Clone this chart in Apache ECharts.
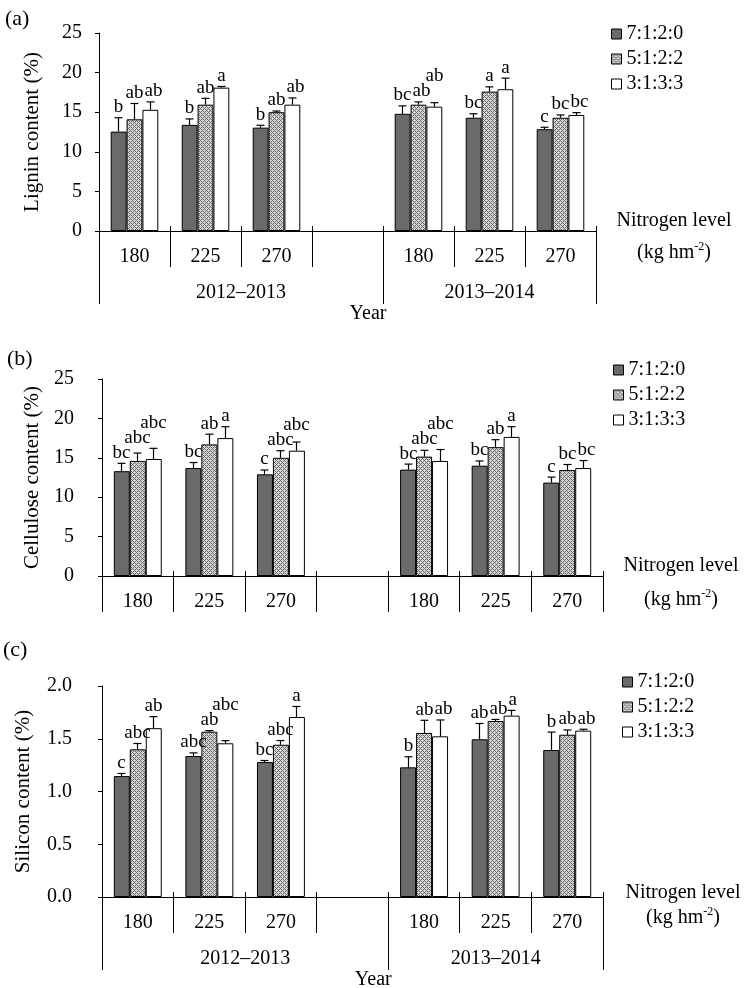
<!DOCTYPE html>
<html><head><meta charset="utf-8">
<script src="https://cdn.jsdelivr.net/npm/echarts@6/dist/echarts.min.js"></script>
<style>html,body{margin:0;padding:0;background:#fff}#c{width:750px;height:988px}</style>
</head><body><div id="c"></div>
<script>
// ---------- data ----------
const categories = ['180', '225', '270', '', '180', '225', '270'];
const seriesNames = ['7:1:2:0', '5:1:2:2', '3:1:3:3'];
const yearLabels = ['2012–2013', '2013–2014'];
const yearSpans = [4, 3];

const ligninMeans = [
  [12.55, 13.4, 13.05, null, 14.8, 14.3, 12.85],
  [14.1, 15.95, 15.0, null, 15.95, 17.6, 14.3],
  [15.3, 18.1, 15.95, null, 15.7, 17.9, 14.65]
];
const ligninErrs = [
  [1.75, 0.75, 0.3, null, 1.0, 0.5, 0.25],
  [2.0, 0.8, 0.15, null, 0.35, 0.6, 0.35],
  [1.0, 0.15, 0.85, null, 0.5, 1.4, 0.3]
];
const ligninLetters = [
  ['b', 'b', 'b', '', 'bc', 'bc', 'c'],
  ['ab', 'ab', 'ab', '', 'ab', 'a', 'bc'],
  ['ab', 'a', 'ab', '', 'ab', 'a', 'bc']
];

const celluloseMeans = [
  [13.3, 13.7, 12.9, null, 13.5, 14.0, 11.85],
  [14.6, 16.7, 15.0, null, 15.15, 16.35, 13.45],
  [14.85, 17.5, 15.9, null, 14.6, 17.65, 13.7]
];
const celluloseErrs = [
  [1.0, 0.7, 0.55, null, 0.7, 0.6, 0.7],
  [1.0, 1.3, 0.9, null, 0.8, 0.95, 0.7],
  [1.35, 1.45, 1.1, null, 1.45, 1.3, 0.95]
];
const celluloseLetters = [
  ['bc', 'bc', 'c', '', 'bc', 'bc', 'c'],
  ['abc', 'ab', 'abc', '', 'abc', 'ab', 'bc'],
  ['abc', 'a', 'abc', '', 'abc', 'a', 'bc']
];

const siliconMeans = [
  [1.146, 1.336, 1.279, null, 1.229, 1.495, 1.393],
  [1.40, 1.567, 1.443, null, 1.555, 1.668, 1.538],
  [1.60, 1.457, 1.706, null, 1.523, 1.719, 1.577]
];
const siliconErrs = [
  [0.025, 0.03, 0.015, null, 0.10, 0.15, 0.17],
  [0.055, 0.01, 0.04, null, 0.12, 0.015, 0.045],
  [0.11, 0.025, 0.10, null, 0.155, 0.05, 0.013]
];
const siliconLetters = [
  ['c', 'abc', 'bc', '', 'b', 'ab', 'b'],
  ['abc', 'ab', 'abc', '', 'ab', 'ab', 'ab'],
  ['ab', 'abc', 'a', '', 'ab', 'a', 'ab']
];

// ---------- styling ----------
const FONT = "'Liberation Serif','Times New Roman',serif";
const FS = 20;       // tick / category / year text
const FS_LET = 19;   // significance letters
const FS_NAME = 21;  // y axis names
const CAT_GAP = 0.33;

const patternCanvas = (function () {
  const c = document.createElement('canvas');
  c.width = 4; c.height = 4;
  const g = c.getContext('2d');
  g.fillStyle = '#d6d6d6'; g.fillRect(0, 0, 4, 4);
  g.fillStyle = '#6a6a6a';
  for (let x = 0; x < 4; x++) for (let y = 0; y < 4; y++) {
    if ((x + y) % 4 === 0 || ((x - y + 4) % 4) === 0) g.fillRect(x, y, 1, 1);
  }
  return c;
})();
const fills = ['#6a6a6a', { image: patternCanvas, repeat: 'repeat' }, '#ffffff'];

const mctx = document.createElement('canvas').getContext('2d');
mctx.font = FS_LET + 'px ' + FONT;
function textW(t) { return mctx.measureText(t).width; }

function crisp(v) { return Math.round(v - 0.5) + 0.5; }

function dividerRender(withYear, shortLen, longLen) {
  return function (params, api) {
    const c0 = api.coord([0, 0]);
    const band = api.size([1, 0])[0];
    const left = c0[0] - band / 2;
    const y0 = c0[1];
    const bounds = [0];
    let acc = 0;
    yearSpans.forEach(function (s) { acc += s; bounds.push(acc); });
    const children = [];
    for (let b = 0; b <= categories.length; b++) {
      const x = crisp(left + b * band);
      const isLong = withYear && bounds.indexOf(b) >= 0;
      children.push({ type: 'line', shape: { x1: x, y1: y0 - 5, x2: x, y2: y0 + (isLong ? longLen : shortLen) },
        style: { stroke: '#000', lineWidth: 1 } });
    }
    if (withYear) {
      for (let g = 0; g < yearLabels.length; g++) {
        const xm = left + (bounds[g] + bounds[g + 1]) / 2 * band;
        children.push({ type: 'text', style: { text: yearLabels[g], x: xm, y: y0 + 62, align: 'center', verticalAlign: 'middle',
          fontFamily: FONT, fontSize: FS, fill: '#000' } });
      }
      children.push({ type: 'text', style: { text: 'Year', x: left + bounds[1] * band - 15, y: y0 + 83, align: 'center', verticalAlign: 'middle',
        fontFamily: FONT, fontSize: FS, fill: '#000' } });
    }
    return { type: 'group', children: children };
  };
}

function errRender(means, errs, letters) {
  return function (params, api) {
    const i = api.value(0);
    const c = api.coord([i, 0]);
    const band = api.size([1, 0])[0];
    const bw = band * (1 - CAT_GAP) / 3;
    const children = [];
    const placed = [];
    const LH = 15;
    for (let k = 0; k < 3; k++) {
      const m = means[k][i], e = errs[k][i];
      const x = crisp(c[0] + (k - 1) * bw);
      const yT = api.coord([i, m])[1];
      const yE = api.coord([i, m + e])[1];
      children.push({ type: 'line', shape: { x1: x, y1: yT, x2: x, y2: yE }, style: { stroke: '#000', lineWidth: 1.2 } });
      children.push({ type: 'line', shape: { x1: x - 4, y1: yE, x2: x + 4, y2: yE }, style: { stroke: '#000', lineWidth: 1.2 } });
      const t = letters[k][i];
      const w = textW(t);
      let tx = x;
      let yb = yE - 1;
      let moved = true, guard = 0;
      while (moved && guard++ < 20) {
        moved = false;
        for (const p of placed) {
          const ov = (p.w + w) / 2 + 1 - Math.abs(p.x - tx);
          if (ov > 0 && Math.abs(p.yb - yb) < LH) {
            if (ov <= 5) { tx += ov; } else { yb = p.yb - LH; }
            moved = true;
          }
        }
      }
      placed.push({ x: tx, w: w, yb: yb });
      children.push({ type: 'text', style: { text: t, x: tx, y: yb, align: 'center', verticalAlign: 'bottom',
        fontFamily: FONT, fontSize: FS_LET, fill: '#000' } });
    }
    return { type: 'group', children: children };
  };
}

const panels = [
  { means: ligninMeans, errs: ligninErrs, letters: ligninLetters, yName: 'Lignin content (%)', yMax: 25, yInt: 5, dec: 0,
    grid: { left: 99, top: 33, width: 497, height: 198 }, labelMargin: 17, nameGap: 56,
    legend: { left: 611, top: 24 }, title: { text: '(a)', left: 5, top: 8 }, years: true, nitro: { gap: 78, pad: 12, lh: 32 } },
  { means: celluloseMeans, errs: celluloseErrs, letters: celluloseLetters, yName: 'Cellulose content (%)', yMax: 25, yInt: 5, dec: 0,
    grid: { left: 102, top: 379, width: 501, height: 197 }, labelMargin: 28, nameGap: 59,
    legend: { left: 613, top: 360 }, title: { text: '(b)', left: 7, top: 348 }, years: false, nitro: { gap: 78, pad: 14, lh: 34 } },
  { means: siliconMeans, errs: siliconErrs, letters: siliconLetters, yName: 'Silicon content (%)', yMax: 2, yInt: 0.5, dec: 1,
    grid: { left: 102, top: 686, width: 501, height: 211 }, labelMargin: 30, nameGap: 68,
    legend: { left: 622, top: 672 }, title: { text: '(c)', left: 3, top: 639 }, years: true, nitro: { gap: 80, pad: 16, lh: 25 } }
];

const option = { animation: false, backgroundColor: '#fff', grid: [], xAxis: [], yAxis: [], series: [], legend: [], title: [] };

panels.forEach(function (p, gi) {
  option.grid.push(Object.assign({ outerBoundsMode: 'none', containLabel: false }, p.grid));
  option.title.push({ text: p.title.text, left: p.title.left, top: p.title.top, padding: 0,
    textStyle: { fontFamily: FONT, fontSize: 22, fontWeight: 'normal', color: '#000' } });
  option.xAxis.push({
    type: 'category', gridIndex: gi, data: categories,
    axisLine: { show: true, lineStyle: { color: '#000', width: 1 } },
    axisTick: { show: false },
    axisLabel: { interval: 0, margin: 16, fontFamily: FONT, fontSize: FS, color: '#000' },
    splitLine: { show: false },
    name: 'Nitrogen level\n(kg hm{sup|-2})', nameLocation: 'end', nameGap: p.nitro.gap, nameMoveOverlap: false,
    nameTextStyle: { fontFamily: FONT, fontSize: 20, color: '#000', align: 'center', verticalAlign: 'middle',
      lineHeight: p.nitro.lh, padding: [p.nitro.pad, 0, 0, 0],
      rich: { sup: { fontFamily: FONT, fontSize: 12, color: '#000', padding: [0, 0, 12, 0] } } }
  });
  option.yAxis.push({
    type: 'value', gridIndex: gi, min: 0, max: p.yMax, interval: p.yInt,
    axisLine: { show: true, lineStyle: { color: '#000', width: 1 } },
    axisTick: { show: true, inside: false, length: 4, lineStyle: { color: '#000' } },
    splitLine: { show: false },
    axisLabel: { margin: p.labelMargin, fontFamily: FONT, fontSize: FS, color: '#000',
      formatter: function (v) { return v.toFixed(p.dec); } },
    name: p.yName, nameLocation: 'middle', nameGap: p.nameGap, nameMoveOverlap: false,
    nameTextStyle: { fontFamily: FONT, fontSize: FS_NAME, color: '#000' }
  });
  seriesNames.forEach(function (nm, k) {
    option.series.push({
      type: 'bar', name: nm, xAxisIndex: gi, yAxisIndex: gi, data: p.means[k],
      barGap: '0%', barCategoryGap: (CAT_GAP * 100) + '%', silent: true,
      itemStyle: { color: fills[k], borderColor: '#000', borderWidth: 1 }
    });
  });
  option.series.push({
    type: 'custom', xAxisIndex: gi, yAxisIndex: gi, silent: true, clip: false, z: 5,
    data: categories.map(function (c, i) { return [i, 0]; }).filter(function (d) { return p.means[0][d[0]] != null; }),
    renderItem: errRender(p.means, p.errs, p.letters)
  });
  option.series.push({
    type: 'custom', xAxisIndex: gi, yAxisIndex: gi, silent: true, clip: false, z: 5,
    data: [[0, 0]],
    renderItem: dividerRender(p.years, 36, 73)
  });
  option.legend.push({
    data: seriesNames, orient: 'vertical', left: p.legend.left, top: p.legend.top, padding: 0,
    itemWidth: 10, itemHeight: 10, itemGap: 5, icon: 'rect', selectedMode: false,
    itemStyle: { borderColor: '#000', borderWidth: 1 },
    textStyle: { fontFamily: FONT, fontSize: 20, color: '#000' }
  });
});

const chart = echarts.init(document.getElementById('c'), null, { renderer: 'canvas' });
chart.setOption(option);
</script>
</body></html>
